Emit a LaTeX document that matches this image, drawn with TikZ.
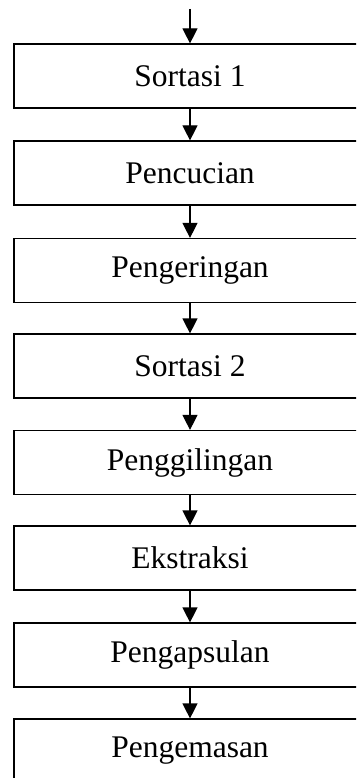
\documentclass[tikz,border=0pt]{standalone}
\usepackage{fontspec}
\setmainfont{Liberation Serif}
\usetikzlibrary{arrows.meta}
\begin{document}
\begin{tikzpicture}[x=1pt,y=-1pt,
  stepbox/.style={draw=black,line width=1.2pt,rectangle,minimum width=352pt,minimum height=64pt,inner sep=0pt,
    font=\fontsize{31.5}{36}\selectfont},
  flow/.style={line width=1.2pt,-{Triangle[width=15pt,length=15pt]}}]
\useasboundingbox (0,0) rectangle (356,778);
\clip (0,0) rectangle (356,778);
\fill[white] (0,0) rectangle (356,778);
\coordinate (start) at (190,9);
\node[stepbox] (b1) at (190,76) {Sortasi 1};
\node[stepbox] (b2) at (190,173) {Pencucian};
\node[stepbox] (b3) at (190,270.5) {Pengeringan};
\node[stepbox] (b4) at (190,366) {Sortasi 2};
\node[stepbox] (b5) at (190,462.5) {Penggilingan};
\node[stepbox] (b6) at (190,558) {Ekstraksi};
\node[stepbox] (b7) at (190,655) {Pengapsulan};
\node[stepbox] (b8) at (190,751) {Pengemasan};
\draw[flow] (start) -- (b1.north);
\draw[flow] (b1) -- (b2);
\draw[flow] (b2) -- (b3);
\draw[flow] (b3) -- (b4);
\draw[flow] (b4) -- (b5);
\draw[flow] (b5) -- (b6);
\draw[flow] (b6) -- (b7);
\draw[flow] (b7) -- (b8);
\end{tikzpicture}
\end{document}
